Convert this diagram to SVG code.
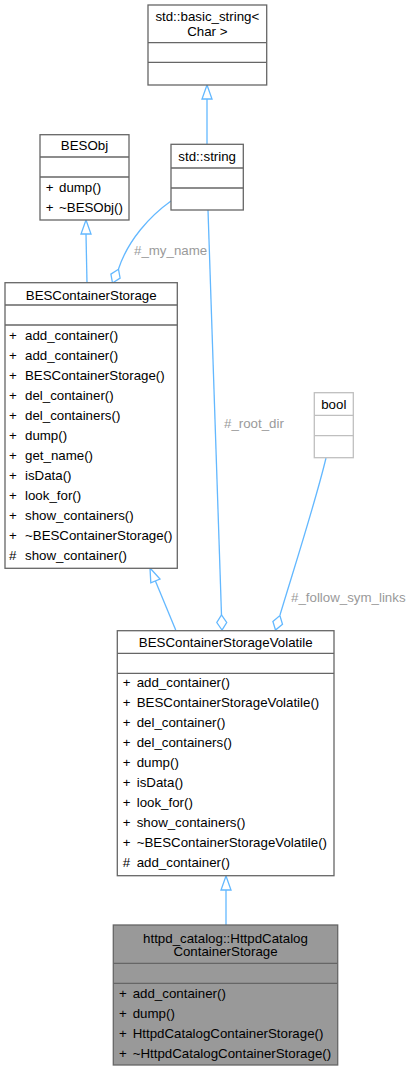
<svg xmlns="http://www.w3.org/2000/svg" width="411" height="1071" viewBox="0 0 411 1071">
<style>
text{font-family:"Liberation Sans",Arial,sans-serif;font-size:13.3px;fill:#000}
.t{text-anchor:middle}
.box{fill:#fff;stroke:#666;stroke-width:1.3}
.sep{stroke:#666;stroke-width:1.3}
.gbox{fill:#fff;stroke:#bfbfbf;stroke-width:1.3}
.gsep{stroke:#bfbfbf;stroke-width:1.3}
.hl{fill:#999;stroke:#666;stroke-width:1.3}
.e{fill:none;stroke:#63b8ff;stroke-width:1.3}
.ah{fill:#fff;stroke:#63b8ff;stroke-width:1.3}
.lbl{fill:#9a9a9a}
</style>
<rect width="411" height="1071" fill="#fff"/>
<g id="connectors">
<path class="e" d="M207,144 L207,99"/>
<polygon class="ah" points="207,85 202,99 212,99"/>
<path class="e" d="M87,283 L86,234"/>
<polygon class="ah" points="86,220 81,234 91,234"/>
<path class="e" d="M175.7,630 L155.4,580.9"/>
<polygon class="ah" points="150,568 160,579 150.8,582.8"/>
<path class="e" d="M226,925 L226,890"/>
<polygon class="ah" points="226,876 221,890 231,890"/>
<path class="e" d="M171,201 C150,216 128,240 118.5,269"/>
<polygon class="ah" points="112.5,283 110.9,274.1 118.5,269.2 120.1,278.1"/>
<text class="lbl" x="134" y="255">#_my_name</text>
<path class="e" d="M208,210 L221.5,615"/>
<polygon class="ah" points="222,630 216.8,622.5 221.5,615 226.7,622.5"/>
<text class="lbl" x="224" y="428">#_root_dir</text>
<path class="e" d="M326,458 C316,500 296,562 280,615"/>
<polygon class="ah" points="275.5,630 272.9,621.4 279.9,615.6 282.5,624.2"/>
<text class="lbl" x="291" y="602">#_follow_sym_links</text>
</g>
<g id="basic_string">
<rect class="box" x="148" y="5" width="118.7" height="80"/>
<line class="sep" x1="148" y1="42.7" x2="266.7" y2="42.7"/>
<line class="sep" x1="148" y1="62.3" x2="266.7" y2="62.3"/>
<text class="t" x="207.3" y="21">std::basic_string&lt;</text>
<text class="t" x="207.3" y="36">Char &gt;</text>
</g>
<g id="BESObj">
<rect class="box" x="40" y="134.7" width="89" height="85.3"/>
<line class="sep" x1="40" y1="157" x2="129" y2="157"/>
<line class="sep" x1="40" y1="177" x2="129" y2="177"/>
<text class="t" x="84.5" y="150">BESObj</text>
<text x="45.7" y="191.5">+</text><text x="59" y="191.5">dump()</text>
<text x="45.7" y="211.5">+</text><text x="59" y="211.5">~BESObj()</text>
</g>
<g id="std_string">
<rect class="box" x="171" y="144.3" width="72.3" height="65.7"/>
<line class="sep" x1="171" y1="168" x2="243.3" y2="168"/>
<line class="sep" x1="171" y1="188" x2="243.3" y2="188"/>
<text class="t" x="207.2" y="161">std::string</text>
</g>
<g id="bool">
<rect class="gbox" x="314.3" y="392.7" width="39" height="65"/>
<line class="gsep" x1="314.3" y1="415.3" x2="353.3" y2="415.3"/>
<line class="gsep" x1="314.3" y1="435.7" x2="353.3" y2="435.7"/>
<text class="t" x="333.8" y="408.8">bool</text>
</g>
<g id="BESContainerStorage">
<rect class="box" x="5" y="282.7" width="172.3" height="285.6"/>
<line class="sep" x1="5" y1="305" x2="177.3" y2="305"/>
<line class="sep" x1="5" y1="325" x2="177.3" y2="325"/>
<text class="t" x="91.2" y="299.5">BESContainerStorage</text>
<text x="9" y="339.5">+</text><text x="25" y="339.5">add_container()</text>
<text x="9" y="359.5">+</text><text x="25" y="359.5">add_container()</text>
<text x="9" y="379.5">+</text><text x="25" y="379.5">BESContainerStorage()</text>
<text x="9" y="399.5">+</text><text x="25" y="399.5">del_container()</text>
<text x="9" y="419.5">+</text><text x="25" y="419.5">del_containers()</text>
<text x="9" y="439.5">+</text><text x="25" y="439.5">dump()</text>
<text x="9" y="459.5">+</text><text x="25" y="459.5">get_name()</text>
<text x="9" y="479.5">+</text><text x="25" y="479.5">isData()</text>
<text x="9" y="499.5">+</text><text x="25" y="499.5">look_for()</text>
<text x="9" y="519.5">+</text><text x="25" y="519.5">show_containers()</text>
<text x="9" y="539.5">+</text><text x="25" y="539.5">~BESContainerStorage()</text>
<text x="9" y="559.5">#</text><text x="25" y="559.5">show_container()</text>
</g>
<g id="BESContainerStorageVolatile">
<rect class="box" x="117.3" y="630.7" width="216.7" height="245"/>
<line class="sep" x1="117.3" y1="653.3" x2="334" y2="653.3"/>
<line class="sep" x1="117.3" y1="673.3" x2="334" y2="673.3"/>
<text class="t" x="225.7" y="646.8">BESContainerStorageVolatile</text>
<text x="122.7" y="687.2">+</text><text x="136.7" y="687.2">add_container()</text>
<text x="122.7" y="707.2">+</text><text x="136.7" y="707.2">BESContainerStorageVolatile()</text>
<text x="122.7" y="727.2">+</text><text x="136.7" y="727.2">del_container()</text>
<text x="122.7" y="747.2">+</text><text x="136.7" y="747.2">del_containers()</text>
<text x="122.7" y="767.2">+</text><text x="136.7" y="767.2">dump()</text>
<text x="122.7" y="787.2">+</text><text x="136.7" y="787.2">isData()</text>
<text x="122.7" y="807.2">+</text><text x="136.7" y="807.2">look_for()</text>
<text x="122.7" y="827.2">+</text><text x="136.7" y="827.2">show_containers()</text>
<text x="122.7" y="847.2">+</text><text x="136.7" y="847.2">~BESContainerStorageVolatile()</text>
<text x="122.7" y="867.2">#</text><text x="136.7" y="867.2">add_container()</text>
</g>
<g id="HttpdCatalogContainerStorage">
<rect class="hl" x="113.3" y="925" width="224.4" height="140"/>
<line class="sep" x1="113.3" y1="963.3" x2="337.7" y2="963.3"/>
<line class="sep" x1="113.3" y1="983.3" x2="337.7" y2="983.3"/>
<text class="t" x="225.5" y="942.8">httpd_catalog::HttpdCatalog</text>
<text class="t" x="225.5" y="956.2">ContainerStorage</text>
<text x="119" y="997.8">+</text><text x="132.7" y="997.8">add_container()</text>
<text x="119" y="1017.8">+</text><text x="132.7" y="1017.8">dump()</text>
<text x="119" y="1037.8">+</text><text x="132.7" y="1037.8">HttpdCatalogContainerStorage()</text>
<text x="119" y="1057.8">+</text><text x="132.7" y="1057.8">~HttpdCatalogContainerStorage()</text>
</g>
</svg>
